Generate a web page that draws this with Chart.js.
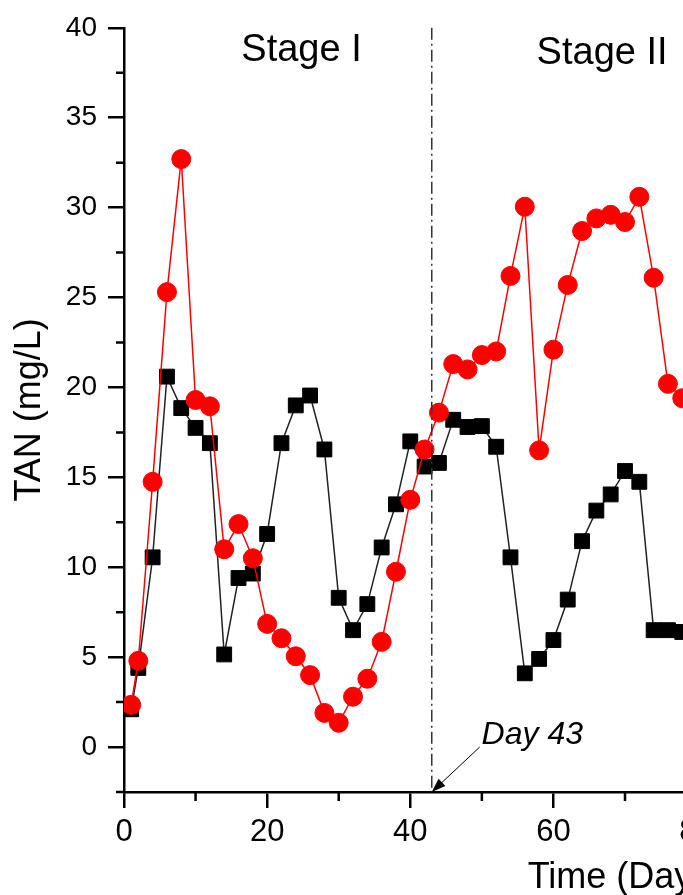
<!DOCTYPE html>
<html>
<head>
<meta charset="utf-8">
<script src="https://cdn.jsdelivr.net/npm/chart.js@4.4.1/dist/chart.umd.min.js"></script>
<style>
  html, body { margin: 0; padding: 0; background: #fff; overflow: hidden; }
  #wrap { position: relative; width: 1160px; height: 940px; }
</style>
</head>
<body>
<div id="wrap"><canvas id="tanChart" width="1160" height="940"></canvas></div>
<script>
// sampling days and TAN (mg/L)
var days = [1, 2, 4, 6, 8, 10, 12, 14, 16, 18, 20, 22, 24, 26, 28, 30, 32, 34, 36, 38,
            40, 42, 44, 46, 48, 50, 52, 54, 56, 58, 60, 62, 64, 66, 68, 70, 72, 74, 76, 78];
var tanCircles = [2.35, 4.8, 14.75, 25.3, 32.7, 19.3, 18.95, 11.0, 12.4, 10.5,
                  6.85, 6.05, 5.05, 4.0, 1.9, 1.35, 2.8, 3.8, 5.85, 9.75,
                  13.75, 16.55, 18.6, 21.3, 21.0, 21.8, 22.0, 26.2, 30.05, 16.5,
                  22.1, 25.7, 28.7, 29.4, 29.6, 29.2, 30.6, 26.1, 20.2, 19.4];
var tanSquares = [2.1, 4.4, 10.55, 20.6, 18.85, 17.75, 16.9, 5.15, 9.4, 9.65,
                  11.85, 16.9, 19.0, 19.55, 16.55, 8.3, 6.5, 7.95, 11.1, 13.5,
                  17.0, 15.6, 15.8, 18.2, 17.8, 17.85, 16.7, 10.55, 4.1, 4.9,
                  5.95, 8.2, 11.45, 13.15, 14.05, 15.35, 14.75, 6.5, 6.5, 6.4];

var xMajorTicks = [0, 20, 40, 60, 80, 100, 120, 140];
var xMinorTicks = [10, 30, 50, 70, 90, 110, 130];
var yMajorTicks = [0, 5, 10, 15, 20, 25, 30, 35, 40];
var yMinorTicks = [-2.5, 2.5, 7.5, 12.5, 17.5, 22.5, 27.5, 32.5, 37.5];

var stageDay = 43;
var FONT = "'Liberation Sans', Arial, sans-serif";

function pairs(xs, ys) {
  return xs.map(function (x, i) { return { x: x, y: ys[i] }; });
}

// stage divider, stage labels, day-43 arrow and minor ticks
var extras = {
  id: 'extras',
  afterDraw: function (chart) {
    var ctx = chart.ctx, xs = chart.scales.x, ys = chart.scales.y;
    var area = chart.chartArea;
    ctx.save();

    // minor ticks
    ctx.strokeStyle = '#000';
    ctx.lineWidth = 2.5;
    ctx.beginPath();
    yMinorTicks.forEach(function (v) {
      var py = ys.getPixelForValue(v);
      ctx.moveTo(area.left, py);
      ctx.lineTo(area.left - 8, py);
    });
    xMinorTicks.forEach(function (v) {
      var px = xs.getPixelForValue(v);
      ctx.moveTo(px, area.bottom);
      ctx.lineTo(px, area.bottom + 9);
    });
    ctx.stroke();

    // dash-dot divider
    var dx = xs.getPixelForValue(stageDay);
    ctx.strokeStyle = '#333';
    ctx.lineWidth = 1.5;
    ctx.setLineDash([12, 4, 2, 4]);
    ctx.beginPath();
    ctx.moveTo(dx, ys.getPixelForValue(40));
    ctx.lineTo(dx, ys.getPixelForValue(-2.5));
    ctx.stroke();
    ctx.setLineDash([]);

    // stage labels
    ctx.fillStyle = '#000';
    ctx.font = '38px ' + FONT;
    ctx.textAlign = 'center';
    ctx.textBaseline = 'alphabetic';
    ctx.fillText('Stage I', xs.getPixelForValue(24.8), ys.getPixelForValue(38.15));
    ctx.fillText('Stage II', xs.getPixelForValue(66.8), ys.getPixelForValue(38.0));

    // Day 43 label with arrow
    ctx.font = 'italic 32px ' + FONT;
    ctx.fillText('Day 43', xs.getPixelForValue(57.05), ys.getPixelForValue(0.15));
    var x0 = xs.getPixelForValue(49.7), y0 = ys.getPixelForValue(0);
    var x1 = xs.getPixelForValue(stageDay), y1 = ys.getPixelForValue(-2.5);
    var ang = Math.atan2(y1 - y0, x1 - x0);
    ctx.strokeStyle = '#000';
    ctx.lineWidth = 1;
    ctx.beginPath();
    ctx.moveTo(x0, y0);
    ctx.lineTo(x1 - 10 * Math.cos(ang), y1 - 10 * Math.sin(ang));
    ctx.stroke();
    ctx.beginPath();
    ctx.moveTo(x1, y1);
    ctx.lineTo(x1 - 14 * Math.cos(ang) + 5 * Math.sin(ang), y1 - 14 * Math.sin(ang) - 5 * Math.cos(ang));
    ctx.lineTo(x1 - 14 * Math.cos(ang) - 5 * Math.sin(ang), y1 - 14 * Math.sin(ang) + 5 * Math.cos(ang));
    ctx.closePath();
    ctx.fillStyle = '#000';
    ctx.fill();

    ctx.restore();
  }
};

var ctx = document.getElementById('tanChart').getContext('2d');
var tanChart = new Chart(ctx, {
  type: 'line',
  data: {
    datasets: [{
      label: 'TAN (circles)',
      data: pairs(days, tanCircles),
      borderColor: '#ff0000',
      backgroundColor: '#ff0000',
      borderWidth: 1.5,
      pointStyle: 'circle',
      pointRadius: 9.5,
      pointBorderWidth: 1,
      tension: 0
    }, {
      label: 'TAN (squares)',
      data: pairs(days, tanSquares),
      borderColor: '#222222',
      backgroundColor: '#000000',
      borderWidth: 1.5,
      pointStyle: 'rect',
      pointRadius: 10.5,
      pointBorderWidth: 1,
      pointBorderColor: '#000000',
      tension: 0
    }]
  },
  options: {
    responsive: false,
    animation: false,
    devicePixelRatio: 1,
    layout: { padding: { top: 24, right: 34, bottom: 0, left: 0 } },
    plugins: {
      legend: { display: false },
      tooltip: { enabled: false }
    },
    scales: {
      x: {
        type: 'linear',
        min: 0,
        max: 140,
        afterBuildTicks: function (scale) {
          scale.ticks = xMajorTicks.map(function (v) { return { value: v }; });
        },
        afterFit: function (scale) { scale.height = 148; },
        border: { display: true, color: '#000', width: 2.5 },
        grid: { drawOnChartArea: false, drawTicks: true, tickLength: 16, color: '#000', lineWidth: 2.5 },
        ticks: { color: '#000', padding: 6, font: { family: FONT, size: 31 }, maxRotation: 0 },
        title: {
          display: true,
          text: 'Time (Days)',
          color: '#000',
          font: { family: FONT, size: 36 },
          padding: { top: 0, bottom: 40 }
        }
      },
      y: {
        type: 'linear',
        min: -2.5,
        max: 40,
        afterBuildTicks: function (scale) {
          scale.ticks = yMajorTicks.map(function (v) { return { value: v }; });
        },
        afterFit: function (scale) { scale.width = 124; },
        border: { display: true, color: '#000', width: 2.5 },
        grid: { drawOnChartArea: false, drawTicks: true, tickLength: 16, color: '#000', lineWidth: 2.5 },
        ticks: { color: '#000', padding: 11, font: { family: FONT, size: 28 } },
        title: {
          display: true,
          text: 'TAN (mg/L)',
          color: '#000',
          font: { family: FONT, size: 36 },
          padding: { top: 8, bottom: 0 }
        }
      }
    }
  },
  plugins: [extras]
});
</script>
</body>
</html>
